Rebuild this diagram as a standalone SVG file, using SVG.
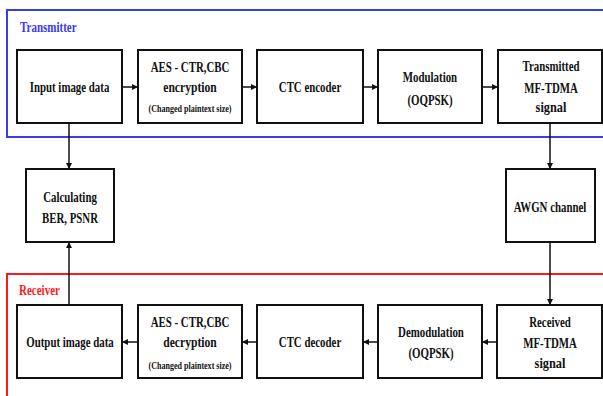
<svg xmlns="http://www.w3.org/2000/svg" width="603" height="396" viewBox="0 0 603 396">
<defs>
<style>
.box{fill:#fff;stroke:#111;stroke-width:2}
.t{font-family:"Liberation Serif","Times New Roman",serif;font-weight:bold;font-size:14.5px;fill:#111;text-anchor:middle}
.s{font-family:"Liberation Serif","Times New Roman",serif;font-weight:bold;font-size:11px;fill:#111;text-anchor:middle}
.c{fill:none;stroke:#111;stroke-width:1.5}
.lbl{font-family:"Liberation Serif","Times New Roman",serif;font-weight:bold;font-size:14.5px}
</style>
<marker id="ah" viewBox="0 0 10 10" refX="10" refY="5" markerWidth="6" markerHeight="6" markerUnits="userSpaceOnUse" orient="auto">
<path d="M0,0 L10,5 L0,10 z" fill="#111"/>
</marker>
</defs>
<rect width="603" height="396" fill="#fff"/>
<g id="frames">
<rect x="7" y="10" width="700" height="127" fill="none" stroke="#3a3af5" stroke-width="2"/>
<rect x="7" y="274" width="700" height="200" fill="none" stroke="#ff1a1a" stroke-width="2"/>
<text class="lbl" transform="matrix(0.76,0,0,1,20,0)" x="0" y="32" fill="#3a3af5">Transmitter</text>
<text class="lbl" transform="matrix(0.76,0,0,1,19,0)" x="0" y="295" fill="#ff1a1a">Receiver</text>
</g>
<g id="connectors">
<line class="c" x1="122" y1="87" x2="138" y2="87" marker-end="url(#ah)"/>
<line class="c" x1="242" y1="87" x2="257" y2="87" marker-end="url(#ah)"/>
<line class="c" x1="363" y1="87" x2="378" y2="87" marker-end="url(#ah)"/>
<line class="c" x1="482" y1="87" x2="498" y2="87" marker-end="url(#ah)"/>
<line class="c" x1="550" y1="123" x2="550" y2="169" marker-end="url(#ah)"/>
<line class="c" x1="550" y1="242" x2="550" y2="305" marker-end="url(#ah)"/>
<line class="c" x1="497" y1="342" x2="482" y2="342" marker-end="url(#ah)"/>
<line class="c" x1="378" y1="342" x2="363" y2="342" marker-end="url(#ah)"/>
<line class="c" x1="257" y1="342" x2="242" y2="342" marker-end="url(#ah)"/>
<line class="c" x1="138" y1="342" x2="122" y2="342" marker-end="url(#ah)"/>
<line class="c" x1="69" y1="123" x2="69" y2="169" marker-end="url(#ah)"/>
<line class="c" x1="69" y1="305" x2="69" y2="242" marker-end="url(#ah)"/>
</g>
<g id="input">
<rect class="box" x="17" y="50" width="105" height="73"/>
<text class="t" transform="matrix(0.75,0,0,1,69.5,0)" x="0" y="92">Input image data</text>
</g>
<g id="aes-enc">
<rect class="box" x="138" y="50" width="104" height="73"/>
<text class="t" transform="matrix(0.75,0,0,1,190,0)" x="0" y="72">AES - CTR,CBC</text>
<text class="t" transform="matrix(0.8,0,0,1,190,0)" x="0" y="92">encryption</text>
<text class="s" transform="matrix(0.73,0,0,1,190,0)" x="0" y="112">(Changed plaintext size)</text>
</g>
<g id="ctc-enc">
<rect class="box" x="257" y="50" width="106" height="73"/>
<text class="t" transform="matrix(0.75,0,0,1,310,0)" x="0" y="92">CTC encoder</text>
</g>
<g id="mod">
<rect class="box" x="378" y="50" width="104" height="73"/>
<text class="t" transform="matrix(0.75,0,0,1,430,0)" x="0" y="82">Modulation</text>
<text class="t" transform="matrix(0.75,0,0,1,430,0)" x="0" y="105">(OQPSK)</text>
</g>
<g id="tx-signal">
<rect class="box" x="498" y="50" width="104" height="73"/>
<text class="t" transform="matrix(0.75,0,0,1,551,0)" x="0" y="71">Transmitted</text>
<text class="t" transform="matrix(0.75,0,0,1,551,0)" x="0" y="93">MF-TDMA</text>
<text class="t" transform="matrix(0.85,0,0,1,551,0)" x="0" y="112">signal</text>
</g>
<g id="calc">
<rect class="box" x="26" y="169" width="88" height="73"/>
<text class="t" transform="matrix(0.75,0,0,1,70,0)" x="0" y="202">Calculating</text>
<text class="t" transform="matrix(0.75,0,0,1,70,0)" x="0" y="223">BER, PSNR</text>
</g>
<g id="awgn">
<rect class="box" x="506" y="169" width="89" height="73"/>
<text class="t" transform="matrix(0.75,0,0,1,550,0)" x="0" y="212">AWGN channel</text>
</g>
<g id="output">
<rect class="box" x="17" y="305" width="105" height="73"/>
<text class="t" transform="matrix(0.75,0,0,1,70,0)" x="0" y="347">Output image data</text>
</g>
<g id="aes-dec">
<rect class="box" x="138" y="305" width="104" height="73"/>
<text class="t" transform="matrix(0.75,0,0,1,190,0)" x="0" y="327">AES - CTR,CBC</text>
<text class="t" transform="matrix(0.8,0,0,1,190,0)" x="0" y="347">decryption</text>
<text class="s" transform="matrix(0.73,0,0,1,190,0)" x="0" y="369">(Changed plaintext size)</text>
</g>
<g id="ctc-dec">
<rect class="box" x="257" y="305" width="106" height="73"/>
<text class="t" transform="matrix(0.75,0,0,1,310,0)" x="0" y="347">CTC decoder</text>
</g>
<g id="demod">
<rect class="box" x="378" y="305" width="104" height="73"/>
<text class="t" transform="matrix(0.75,0,0,1,431,0)" x="0" y="337">Demodulation</text>
<text class="t" transform="matrix(0.75,0,0,1,431,0)" x="0" y="358">(OQPSK)</text>
</g>
<g id="rx-signal">
<rect class="box" x="497" y="305" width="105" height="73"/>
<text class="t" transform="matrix(0.75,0,0,1,550,0)" x="0" y="327">Received</text>
<text class="t" transform="matrix(0.75,0,0,1,550,0)" x="0" y="348">MF-TDMA</text>
<text class="t" transform="matrix(0.85,0,0,1,550,0)" x="0" y="368">signal</text>
</g>
</svg>
